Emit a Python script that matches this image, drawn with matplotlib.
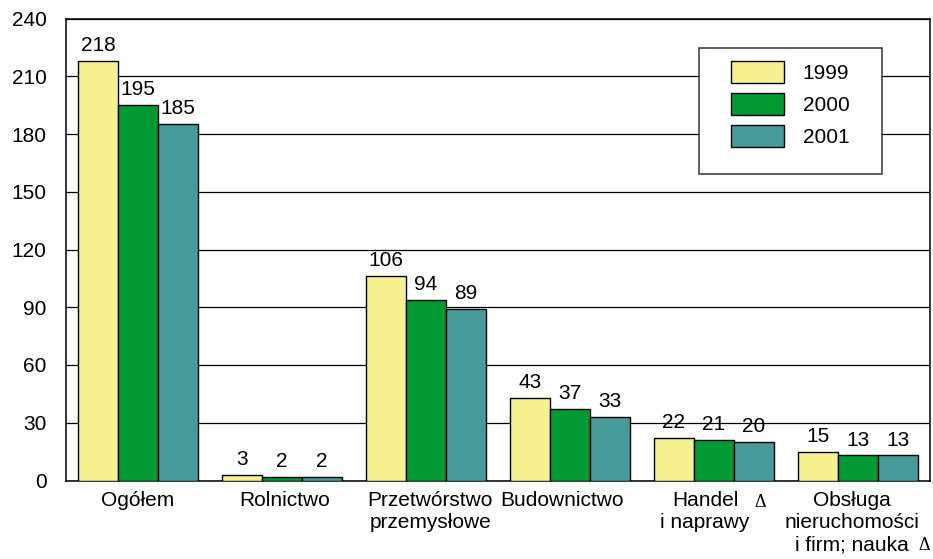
import numpy as np
import matplotlib.pyplot as plt
from matplotlib.patches import Rectangle

categories = ['Ogółem', 'Rolnictwo', 'Przetwórstwo\nprzemysłowe', 'Budownictwo',
              'Handel\ni naprawy', 'Obsługa\nnieruchomości\ni firm; nauka']
years = ['1999', '2000', '2001']
v1999 = [218, 3, 106, 43, 22, 15]
v2000 = [195, 2, 94, 37, 21, 13]
v2001 = [185, 2, 89, 33, 20, 13]
yticks = [0, 30, 60, 90, 120, 150, 180, 210, 240]

colors = ['#F7F192', '#009933', '#489B9B']

plt.rcParams['font.family'] = ['Liberation Sans', 'DejaVu Sans']
plt.rcParams['font.size'] = 15

fig = plt.figure(figsize=(9.33, 5.59), dpi=100)
ax = fig.add_axes([66 / 933, 1 - 480.5 / 559, 864 / 933, 462 / 559])

x = np.arange(len(categories))
w = 0.278
series = [v1999, v2000, v2001]
for i, (vals, yr) in enumerate(zip(series, years)):
    bars = ax.bar(x + (i - 1) * w, vals, w, color=colors[i], edgecolor='black',
                  linewidth=1, label=yr, zorder=3)
    for b, v in zip(bars, vals):
        ax.annotate(str(v), (b.get_x() + b.get_width() / 2, v), xytext=(0, 4.3),
                    textcoords='offset points', ha='center', va='bottom')

ax.set_xlim(-0.5, len(categories) - 0.5)
ax.set_ylim(0, 240)
ax.set_yticks(yticks)
ax.tick_params(axis='y', length=0, pad=14)
ax.set_xticks([])
ax.grid(axis='y', color='black', linewidth=0.9, zorder=0)
ax.set_axisbelow(True)
for s in ax.spines.values():
    s.set_linewidth(1.1)

# category labels under the axis
label_dx = [0, 2, 3, -6, -6.5, -4.5]
for xi, lab, dx in zip(x, categories, label_dx):
    ax.annotate(lab, (xi, 0), xytext=(dx, -7.7), textcoords='offset points',
                ha='center', va='top', linespacing=1.2, annotation_clip=False)

# delta marks
for xi, dx, dy in [(4, 33, -16), (5, 47.5, -46.5)]:
    ax.annotate('Δ', (xi, 0), xytext=(dx, dy), textcoords='offset points',
                ha='center', va='center', family='Liberation Serif', fontsize=13,
                annotation_clip=False)

# legend with a square frame
ax.add_patch(Rectangle(((699 - 66) / 864, (480.5 - 174) / 462), 183 / 864, 126 / 462,
                       transform=ax.transAxes, facecolor='white', edgecolor='#333333',
                       linewidth=1.1, zorder=4))
leg = ax.legend(loc='upper left', bbox_to_anchor=((731 - 66) / 864, (480.5 - 61) / 462),
                frameon=False, borderpad=0, borderaxespad=0, handlelength=2.54,
                handleheight=1.25, handletextpad=0.91, labelspacing=0.48, fontsize=15)
leg.set_zorder(5)

fig.savefig('out.png', dpi=100)
